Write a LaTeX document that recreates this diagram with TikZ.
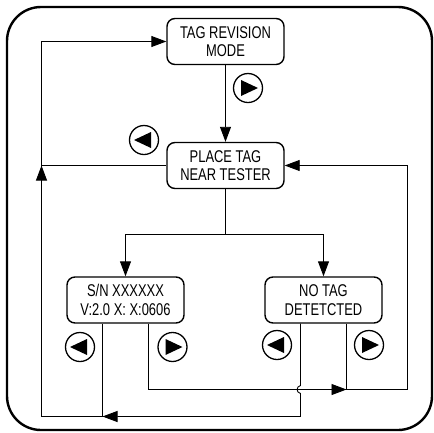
\documentclass[tikz,border=0pt]{standalone}
\usepackage{fontspec}
\setmainfont[FakeStretch=0.76]{Liberation Sans}
\usetikzlibrary{arrows.meta}

\tikzset{
  state/.style={draw, line width=1.4pt, rounded corners=8pt, minimum width=117pt, minimum height=46pt, inner sep=0pt, align=center, font=\fontsize{17}{18.7}\selectfont},
  wire/.style={line width=0.9pt},
  go/.style={wire, -{Triangle[length=15pt,width=11pt]}},
  keyright/.pic={\draw[line width=1.3pt] (0,0) circle (14.5); \fill (-7,-8) -- (10,0) -- (-7,8) -- cycle;},
  keyleft/.pic={\draw[line width=1.3pt] (0,0) circle (14.5); \fill (7,-8) -- (-10,0) -- (7,8) -- cycle;},
}

\begin{document}
\begin{tikzpicture}[x=1pt,y=1pt,yscale=-1,xscale=1]
\useasboundingbox (0,0) rectangle (434,432);

%Shape: Rounded Rect frame
\draw [line width=2.4pt, rounded corners=34pt] (7,7) rectangle (432,430);

% Text Node
\node [state] (mode) at (225.5,41.5) {TAG REVISION\\MODE};
% Text Node
\node [state] (place) at (225.5,165.5) {PLACE TAG\\NEAR TESTER};
% Text Node
\node [state] (sn) at (125.5,300) {S/N XXXXXX\\V:2.0 X: X:0606};
% Text Node
\node [state] (notag) at (323.5,300) {NO TAG\\DETETCTED};

\coordinate (lc) at (41.5,165.5);
\coordinate (bl) at (41.5,416.5);
\coordinate (br) at (407.5,389.5);
\coordinate (split) at (225.5,234.5);
\coordinate (snl) at ([xshift=-23pt]sn.south);
\coordinate (snr) at ([xshift=23pt]sn.south);
\coordinate (notl) at ([xshift=-23pt]notag.south);
\coordinate (notr) at ([xshift=23pt]notag.south);

%Straight Lines
\draw [go] (mode) -- (place);
\draw [go] (place.west) -- (lc) |- (mode.west);
\draw [wire] (place.south) -- (split);
\draw [go] (split) -| (sn.north);
\draw [go] (split) -| (notag.north);

%Straight Lines: left exits
\draw [wire] (snl) -- (snl |- bl);
\draw [go] (notl) -- (300.5,385.5) .. controls (296,386.5) and (296,392.5) .. (300.5,393.5) -- (notl |- bl) -- (snl |- bl);
\draw [go] (snl |- bl) -| (lc);

%Straight Lines: right exits
\draw [go] (snr) |- (notr |- br);
\draw [go] (notr) |- (br) |- (place.east);

%Buttons
\pic at (248,88) {keyright};
\pic at (144,140) {keyleft};
\pic at (80,347) {keyleft};
\pic at (172.5,347) {keyright};
\pic at (277,345) {keyleft};
\pic at (369,345) {keyright};

\end{tikzpicture}
\end{document}
